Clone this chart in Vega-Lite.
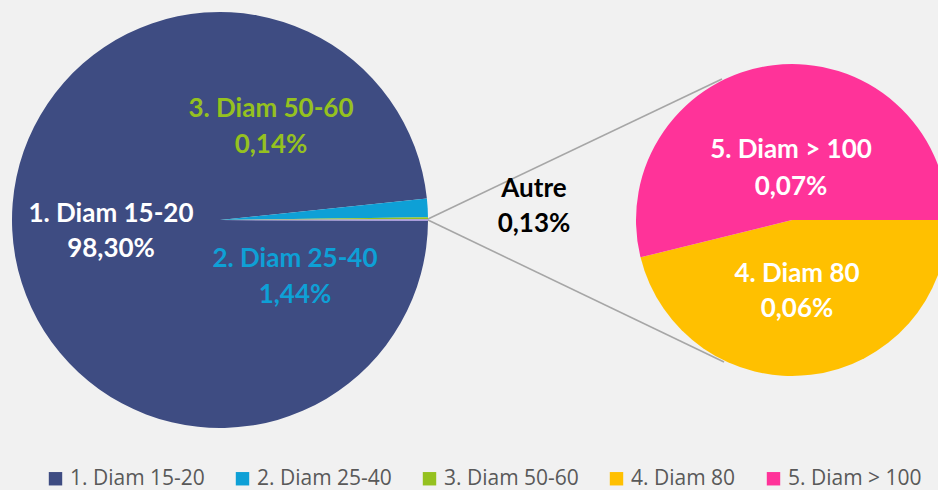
{
  "$schema": "https://vega.github.io/schema/vega-lite/v6.json",
  "width": 938,
  "height": 490,
  "autosize": {"type": "none"},
  "padding": 0,
  "background": "#f1f1f1",
  "config": {
    "view": {"stroke": null},
    "font": "Lato",
    "locale": {"number": {"decimal": ",", "thousands": " ", "grouping": [3], "currency": ["", " €"]}}
  },
  "datasets": {
    "main": [
      {"category": "1. Diam 15-20", "share": 0.9830},
      {"category": "2. Diam 25-40", "share": 0.0144},
      {"category": "3. Diam 50-60", "share": 0.0014},
      {"category": "Autre", "share": 0.0013}
    ],
    "detail": [
      {"category": "4. Diam 80", "share": 0.0006},
      {"category": "5. Diam > 100", "share": 0.0007}
    ]
  },
  "layer": [
    {
      "data": {"name": "main"},
      "transform": [{"filter": "datum.category === 'Autre'"}],
      "mark": {"type": "rule", "color": "#a6a6a6", "strokeWidth": 1.6},
      "encoding": {
        "x": {"datum": 428, "type": "quantitative", "scale": {"domain": [0, 938], "nice": false, "zero": false}, "axis": null},
        "y": {"datum": 219, "type": "quantitative", "scale": {"domain": [0, 490], "nice": false, "zero": false, "reverse": true}, "axis": null},
        "x2": {"datum": 722},
        "y2": {"datum": 79}
      }
    },
    {
      "data": {"name": "main"},
      "transform": [{"filter": "datum.category === 'Autre'"}],
      "mark": {"type": "rule", "color": "#a6a6a6", "strokeWidth": 1.6},
      "encoding": {
        "x": {"datum": 428, "type": "quantitative"},
        "y": {"datum": 220, "type": "quantitative"},
        "x2": {"datum": 724},
        "y2": {"datum": 362}
      }
    },
    {
      "data": {"name": "main"},
      "mark": {"type": "arc", "outerRadius": 208},
      "encoding": {
        "x": {"datum": 220, "type": "quantitative"},
        "y": {"datum": 220, "type": "quantitative"},
        "theta": {"field": "share", "type": "quantitative", "stack": true, "scale": {"range": [1.57488, 7.85807]}},
        "order": {"field": "category", "type": "ordinal", "sort": "ascending"},
        "color": {
          "field": "category",
          "type": "nominal",
          "scale": {
            "domain": ["1. Diam 15-20", "2. Diam 25-40", "3. Diam 50-60", "4. Diam 80", "5. Diam > 100", "Autre"],
            "range": ["#3e4c82", "#0ea0d6", "#95c11f", "#ffc000", "#ff3399", "#a28ee0"]
          },
          "legend": {
            "values": ["1. Diam 15-20", "2. Diam 25-40", "3. Diam 50-60", "4. Diam 80", "5. Diam > 100"],
            "orient": "none",
            "legendX": 45,
            "legendY": 468,
            "direction": "horizontal",
            "title": null,
            "symbolType": "square",
            "symbolSize": 180,
            "symbolStrokeWidth": 0,
            "symbolOpacity": 1,
            "labelFont": "Open Sans",
            "labelFontSize": 21,
            "labelColor": "#595959",
            "labelOffset": 4,
            "columnPadding": 27
          }
        }
      }
    },
    {
      "data": {"name": "detail"},
      "mark": {"type": "arc", "outerRadius": 156},
      "encoding": {
        "x": {"datum": 792, "type": "quantitative"},
        "y": {"datum": 220, "type": "quantitative"},
        "theta": {"field": "share", "type": "quantitative", "stack": true, "scale": {"range": [1.570796, 7.853982]}},
        "order": {"field": "category", "type": "ordinal", "sort": "ascending"},
        "color": {"field": "category", "type": "nominal"}
      }
    },
    {
      "data": {"name": "main"},
      "transform": [{"filter": "datum.category === '1. Diam 15-20'"}],
      "encoding": {"x": {"datum": 111, "type": "quantitative"}, "y": {"datum": 222, "type": "quantitative"}},
      "layer": [
        {"mark": {"type": "text", "fontSize": 26, "fontWeight": "bold", "color": "#ffffff", "baseline": "alphabetic"}, "encoding": {"text": {"field": "category"}}},
        {"mark": {"type": "text", "fontSize": 26, "fontWeight": "bold", "color": "#ffffff", "baseline": "alphabetic", "dy": 35}, "encoding": {"text": {"field": "share", "type": "quantitative", "format": ".2%"}}}
      ]
    },
    {
      "data": {"name": "main"},
      "transform": [{"filter": "datum.category === '3. Diam 50-60'"}],
      "encoding": {"x": {"datum": 271, "type": "quantitative"}, "y": {"datum": 117, "type": "quantitative"}},
      "layer": [
        {"mark": {"type": "text", "fontSize": 26, "fontWeight": "bold", "color": "#95c11f", "baseline": "alphabetic"}, "encoding": {"text": {"field": "category"}}},
        {"mark": {"type": "text", "fontSize": 26, "fontWeight": "bold", "color": "#95c11f", "baseline": "alphabetic", "dy": 36}, "encoding": {"text": {"field": "share", "type": "quantitative", "format": ".2%"}}}
      ]
    },
    {
      "data": {"name": "main"},
      "transform": [{"filter": "datum.category === '2. Diam 25-40'"}],
      "encoding": {"x": {"datum": 295, "type": "quantitative"}, "y": {"datum": 267, "type": "quantitative"}},
      "layer": [
        {"mark": {"type": "text", "fontSize": 26, "fontWeight": "bold", "color": "#0ea0d6", "baseline": "alphabetic"}, "encoding": {"text": {"field": "category"}}},
        {"mark": {"type": "text", "fontSize": 26, "fontWeight": "bold", "color": "#0ea0d6", "baseline": "alphabetic", "dy": 36}, "encoding": {"text": {"field": "share", "type": "quantitative", "format": ".2%"}}}
      ]
    },
    {
      "data": {"name": "main"},
      "transform": [{"filter": "datum.category === 'Autre'"}],
      "encoding": {"x": {"datum": 534, "type": "quantitative"}, "y": {"datum": 197, "type": "quantitative"}},
      "layer": [
        {"mark": {"type": "text", "fontSize": 26, "fontWeight": "bold", "color": "#000000", "baseline": "alphabetic"}, "encoding": {"text": {"field": "category"}}},
        {"mark": {"type": "text", "fontSize": 26, "fontWeight": "bold", "color": "#000000", "baseline": "alphabetic", "dy": 35}, "encoding": {"text": {"field": "share", "type": "quantitative", "format": ".2%"}}}
      ]
    },
    {
      "data": {"name": "detail"},
      "transform": [{"filter": "datum.category === '5. Diam > 100'"}],
      "encoding": {"x": {"datum": 791, "type": "quantitative"}, "y": {"datum": 158, "type": "quantitative"}},
      "layer": [
        {"mark": {"type": "text", "fontSize": 26, "fontWeight": "bold", "color": "#ffffff", "baseline": "alphabetic"}, "encoding": {"text": {"field": "category"}}},
        {"mark": {"type": "text", "fontSize": 26, "fontWeight": "bold", "color": "#ffffff", "baseline": "alphabetic", "dy": 37}, "encoding": {"text": {"field": "share", "type": "quantitative", "format": ".2%"}}}
      ]
    },
    {
      "data": {"name": "detail"},
      "transform": [{"filter": "datum.category === '4. Diam 80'"}],
      "encoding": {"x": {"datum": 797, "type": "quantitative"}, "y": {"datum": 282, "type": "quantitative"}},
      "layer": [
        {"mark": {"type": "text", "fontSize": 26, "fontWeight": "bold", "color": "#ffffff", "baseline": "alphabetic"}, "encoding": {"text": {"field": "category"}}},
        {"mark": {"type": "text", "fontSize": 26, "fontWeight": "bold", "color": "#ffffff", "baseline": "alphabetic", "dy": 35}, "encoding": {"text": {"field": "share", "type": "quantitative", "format": ".2%"}}}
      ]
    }
  ],
  "resolve": {"scale": {"theta": "independent"}}
}
